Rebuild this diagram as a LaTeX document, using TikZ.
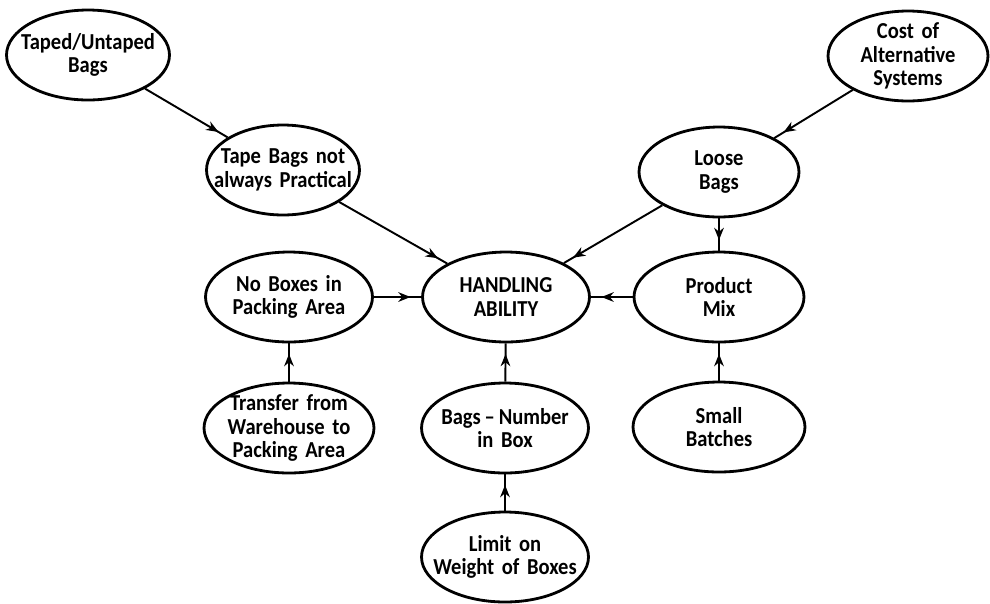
\documentclass[tikz,border=0pt]{standalone}
\usepackage{fontspec}
\setmainfont{Carlito}[FakeStretch=0.9, WordSpace=0.6]
\usepackage{tikz}
\usetikzlibrary{shapes.geometric,arrows.meta,decorations.markings}

\begin{document}
\begin{tikzpicture}[x=0.02cm, y=-0.02cm, >=Stealth]
\tikzset{bubble/.style={draw, ellipse, line width=1.6pt, align=center, text width=3.4cm, inner xsep=-1cm, inner ysep=-0.05cm, minimum width=3.34cm, minimum height=1.8cm, font=\bfseries\fontsize{13}{13.5}\selectfont},
  feeds/.style={line width=1.1pt, postaction={decorate}, decoration={markings, mark=at position -6pt with {\arrow{Stealth[length=7pt,width=5.5pt]}}}}}
\useasboundingbox (0,0) rectangle (990,603);
\node[bubble, minimum width=3.26cm] (taped)    at (88,55)   {Taped/Untaped\\Bags};
\node[bubble, minimum width=3.2cm]  (cost)     at (908,56)  {Cost of\\Alternative\\Systems};
\node[bubble, minimum width=3.06cm] (tape)     at (283,170) {Tape Bags not\\always Practical};
\node[bubble, minimum width=3.2cm]  (loose)    at (719,172) {Loose\\Bags};
\node[bubble]                       (noboxes)  at (289,297) {No Boxes in\\Packing Area};
\node[bubble]                       (handling) at (506,297) {HANDLING\\ABILITY};
\node[bubble, minimum width=3.4cm]  (product)  at (719,297) {Product\\Mix};
\node[bubble, minimum width=3.4cm]  (transfer) at (289,428) {Transfer from\\Warehouse to\\Packing Area};
\node[bubble]                       (bagsnum)  at (505,428) {Bags\,--\,Number\\in Box};
\node[bubble, minimum width=3.44cm] (small)    at (719,427) {Small\\Batches};
\node[bubble]                       (limit)    at (505,557) {Limit on\\Weight of Boxes};
\draw[feeds] (taped) -- (tape);
\draw[feeds] (cost) -- (loose);
\draw[feeds] (tape) -- (handling);
\draw[feeds] (loose) -- (handling);
\draw[feeds] (loose) -- (product);
\draw[feeds] (noboxes) -- (handling);
\draw[feeds] (product) -- (handling);
\draw[feeds] (transfer) -- (noboxes);
\draw[feeds] (bagsnum) -- (handling);
\draw[feeds] (limit) -- (bagsnum);
\draw[feeds] (small) -- (product);
\end{tikzpicture}
\end{document}
